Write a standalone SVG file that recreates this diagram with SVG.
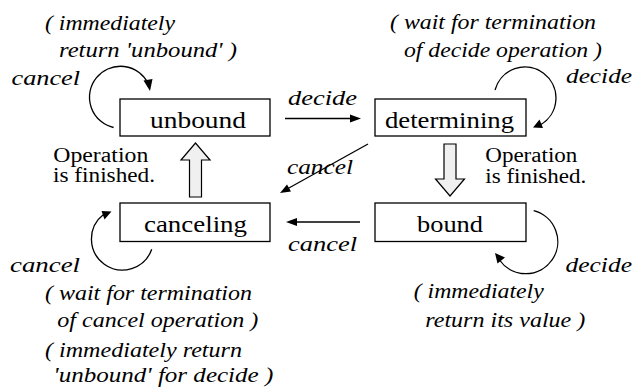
<svg xmlns="http://www.w3.org/2000/svg" width="637" height="389" viewBox="0 0 637 389">
  <style>
    .box { fill: #ffffff; stroke: #000000; stroke-width: 1.3; }
    .edge { fill: none; stroke: #000000; stroke-width: 1.3; }
    .head { fill: #000000; stroke: none; }
    .block { fill: #f0f0f0; stroke: #000000; stroke-width: 1.2; }
  </style>

  <rect width="637" height="389" fill="#ffffff"/>

  <g id="connectors">
    <path class="edge" d="M113.6,127.5 A31,31 0 1 1 148.5,84"/>
    <polygon class="head" points="150,91 143.5,80.5 152.5,79"/>
    <path class="edge" d="M495,90 A31,31 0 1 1 541,124.5"/>
    <polygon class="head" points="533,127.5 539.5,119.5 543,128"/>
    <path class="edge" d="M533.7,210.7 A32,32 0 1 1 499.5,260"/>
    <polygon class="head" points="495,253 505,257.5 497.5,263.5"/>
    <path class="edge" d="M151.7,249.3 A31,31 0 1 1 103.5,214.5"/>
    <polygon class="head" points="111.5,211.5 104.5,219.5 101.5,211"/>
    <path class="edge" d="M285,118.5 L352,118.5"/>
    <polygon class="head" points="361,118.5 350,114.5 350,122.5"/>
    <path class="edge" d="M368,144 L288,188.5"/>
    <polygon class="head" points="280,193 287,184.5 291,191.5"/>
    <path class="edge" d="M360,222 L295,222"/>
    <polygon class="head" points="286,222 297,218 297,226"/>
    <path class="block" d="M189.5,197 L189.5,160 L181,160 L195.5,143 L210,160 L201.5,160 L201.5,197 Z"/>
    <path class="block" d="M444,144 L444,179 L435.5,179 L450,196 L464.5,179 L456,179 L456,144 Z"/>
  </g>

  <g id="unbound">
    <rect class="box" x="120" y="99" width="150" height="37"/>
    <text font-family="Liberation Serif" font-size="23" x="150" y="127.5" textLength="96" lengthAdjust="spacingAndGlyphs">unbound</text>
  </g>
  <g id="determining">
    <rect class="box" x="375" y="99" width="151" height="37"/>
    <text font-family="Liberation Serif" font-size="23" x="385" y="127.5" textLength="129" lengthAdjust="spacingAndGlyphs">determining</text>
  </g>
  <g id="canceling">
    <rect class="box" x="120" y="203" width="150" height="38.5"/>
    <text font-family="Liberation Serif" font-size="23" x="144" y="232" textLength="103" lengthAdjust="spacingAndGlyphs">canceling</text>
  </g>
  <g id="bound">
    <rect class="box" x="375" y="203" width="151" height="38.5"/>
    <text font-family="Liberation Serif" font-size="23" x="417" y="232" textLength="66" lengthAdjust="spacingAndGlyphs">bound</text>
  </g>

  <g id="labels">
    <text font-family="Liberation Serif" font-size="20" font-style="italic" x="11.5" y="85" textLength="68.5" lengthAdjust="spacingAndGlyphs">cancel</text>
    <text font-family="Liberation Serif" font-size="20" font-style="italic" x="45" y="29.5" textLength="130" lengthAdjust="spacingAndGlyphs">( immediately</text>
    <text font-family="Liberation Serif" font-size="20" font-style="italic" x="59" y="57.3" textLength="178" lengthAdjust="spacingAndGlyphs">return 'unbound' )</text>

    <text font-family="Liberation Serif" font-size="20" font-style="italic" x="288" y="105" textLength="69" lengthAdjust="spacingAndGlyphs">decide</text>
    <text font-family="Liberation Serif" font-size="20" font-style="italic" x="287" y="174" textLength="66" lengthAdjust="spacingAndGlyphs">cancel</text>
    <text font-family="Liberation Serif" font-size="20" font-style="italic" x="288" y="251" textLength="69" lengthAdjust="spacingAndGlyphs">cancel</text>

    <text font-family="Liberation Serif" font-size="20" font-style="italic" x="390" y="29.3" textLength="206" lengthAdjust="spacingAndGlyphs">( wait for termination</text>
    <text font-family="Liberation Serif" font-size="20" font-style="italic" x="404" y="57.3" textLength="198" lengthAdjust="spacingAndGlyphs">of decide operation )</text>
    <text font-family="Liberation Serif" font-size="20" font-style="italic" x="566" y="83.3" textLength="66" lengthAdjust="spacingAndGlyphs">decide</text>

    <text font-family="Liberation Serif" font-size="20" font-style="italic" x="565.5" y="271.7" textLength="66.5" lengthAdjust="spacingAndGlyphs">decide</text>
    <text font-family="Liberation Serif" font-size="20" font-style="italic" x="413.7" y="298.3" textLength="130" lengthAdjust="spacingAndGlyphs">( immediately</text>
    <text font-family="Liberation Serif" font-size="20" font-style="italic" x="425.3" y="326.7" textLength="160" lengthAdjust="spacingAndGlyphs">return its value )</text>

    <text font-family="Liberation Serif" font-size="20" font-style="italic" x="10" y="271.7" textLength="70" lengthAdjust="spacingAndGlyphs">cancel</text>
    <text font-family="Liberation Serif" font-size="20" font-style="italic" x="45" y="300" textLength="207" lengthAdjust="spacingAndGlyphs">( wait for termination</text>
    <text font-family="Liberation Serif" font-size="20" font-style="italic" x="57.3" y="326.7" textLength="201" lengthAdjust="spacingAndGlyphs">of cancel operation )</text>
    <text font-family="Liberation Serif" font-size="20" font-style="italic" x="45" y="356.7" textLength="197" lengthAdjust="spacingAndGlyphs">( immediately return</text>
    <text font-family="Liberation Serif" font-size="20" font-style="italic" x="53.3" y="381.7" textLength="220" lengthAdjust="spacingAndGlyphs">'unbound' for decide )</text>

    <text font-family="Liberation Serif" font-size="20" x="53.3" y="161.5" textLength="95" lengthAdjust="spacingAndGlyphs">Operation</text>
    <text font-family="Liberation Serif" font-size="20" x="53" y="182" textLength="102" lengthAdjust="spacingAndGlyphs">is finished.</text>
    <text font-family="Liberation Serif" font-size="20" x="485.3" y="161.5" textLength="92" lengthAdjust="spacingAndGlyphs">Operation</text>
    <text font-family="Liberation Serif" font-size="20" x="485.3" y="182.5" textLength="101" lengthAdjust="spacingAndGlyphs">is finished.</text>
  </g>
</svg>
